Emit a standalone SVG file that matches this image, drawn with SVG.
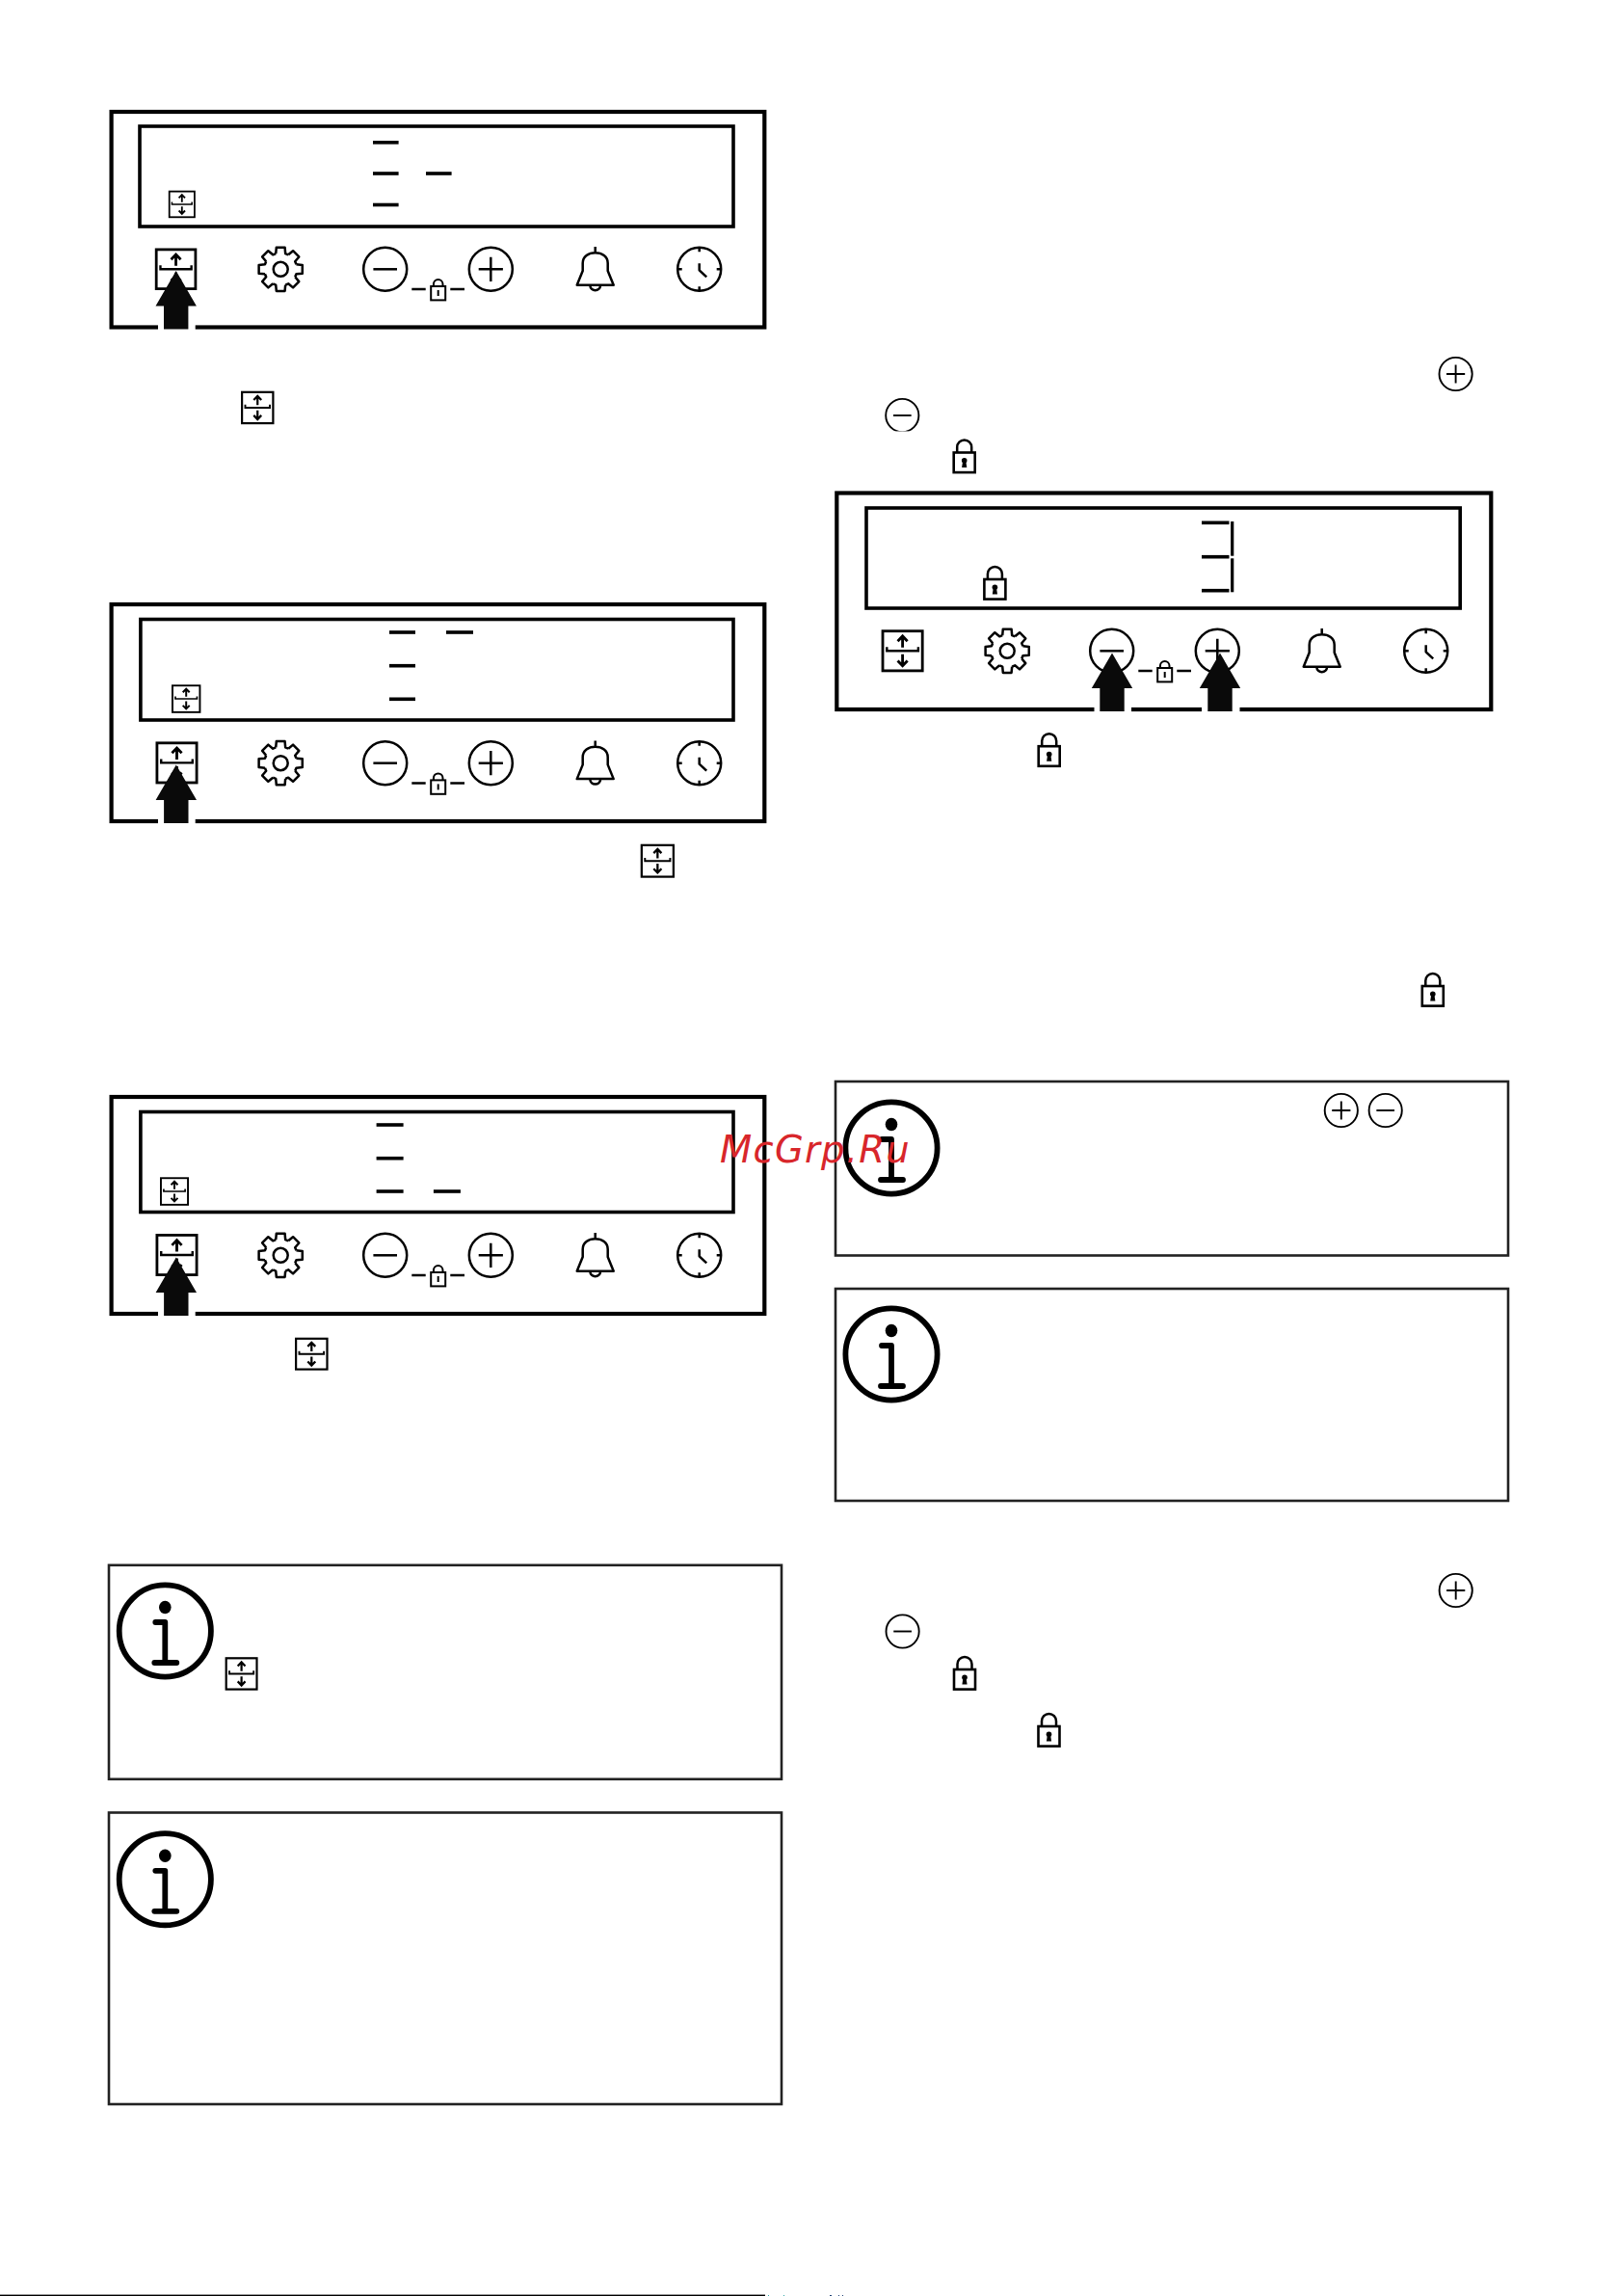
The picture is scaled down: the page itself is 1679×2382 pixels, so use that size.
<svg xmlns="http://www.w3.org/2000/svg" width="1679" height="2382" viewBox="0 0 1679 2382">
<style>
.outer{fill:none;stroke:#000;stroke-width:4.2}
.inner{fill:none;stroke:#000;stroke-width:3.6}
.dash{fill:#000}
.ln{fill:none;stroke:#000;stroke-width:2.5;stroke-linecap:butt;stroke-linejoin:round}
.box{fill:none;stroke:#222;stroke-width:2.6}
.mark{font-family:"DejaVu Sans",sans-serif;font-style:oblique;font-size:38.5px;letter-spacing:1.25px;fill:#d8262b}
</style>
<defs>
<g id="tray">
<rect x="3.2" y="3.2" width="93.6" height="93.6" fill="#fff" stroke="#000" stroke-width="6.4"/>
<path d="M50 42V16M38.5 27L50 15L61.5 27M50 58V85M38.5 73L50 85L61.5 73" fill="none" stroke="#000" stroke-width="6.5"/>
<path d="M13 41V50H87V41" fill="none" stroke="#000" stroke-width="5.5"/>
</g>
<g id="minus"><circle r="22.5" class="ln"/><path d="M-12.3 0H12.3" class="ln"/></g>
<g id="plus"><circle r="22.5" class="ln"/><path d="M-12.6 0H12.6M0-12.6V12.6" class="ln"/></g>
<g id="lock">
<rect x="-11" y="0" width="22" height="20.6" fill="#fff" stroke="#000" stroke-width="2.6"/>
<path d="M-7.5 0V-5.5A7.5 7.5 0 0 1 7.5-5.5V0" class="ln"/>
<circle cy="8.3" r="2.8"/><path d="M-1.6 9H1.6L2.6 15.6H-2.6Z"/>
</g>
<g id="locksmall">
<rect x="-7.5" y="0" width="15" height="14.4" fill="#fff" stroke="#000" stroke-width="2"/>
<path d="M-4.8 0V-2.2A4.8 4.8 0 0 1 4.8-2.2V0" fill="none" stroke="#000" stroke-width="2"/>
<rect x="-1" y="4" width="2" height="6"/>
</g>
<path id="tooth" d="M-4.97-16.26L-4.39-22.58H4.39L4.97-16.26L7.98-15.01" class="ln"/>
<g id="gear">
<use href="#tooth"/>
<use href="#tooth" transform="rotate(45)"/><use href="#tooth" transform="rotate(90)"/><use href="#tooth" transform="rotate(135)"/>
<use href="#tooth" transform="rotate(180)"/><use href="#tooth" transform="rotate(225)"/><use href="#tooth" transform="rotate(270)"/><use href="#tooth" transform="rotate(315)"/>
<circle r="7.5" class="ln"/>
</g>
<g id="bell"><path d="M0 0V6.3M-19 39.7H19L13 25V17C13 10 7 6.3 0 6.3C-7 6.3-13 10-13 17V25ZM-5.5 39.7C-5 47 5 47 5.5 39.7" class="ln"/></g>
<g id="clock"><circle r="22.5" class="ln"/><path d="M0-22.5V-18M0 22.5V18M-22.5 0H-18M22.5 0H18" class="ln"/><path d="M0-6V1L7.5 8" class="ln"/></g>
<g id="controls">
<use href="#gear" x="291.2" y="279.3"/>
<use href="#minus" x="399.7" y="279.3"/>
<use href="#plus" x="509.3" y="279.3"/>
<path d="M427.3 300H441.7M467.3 300H482" class="ln"/>
<use href="#locksmall" x="454.7" y="297"/>
<use href="#bell" x="617.7" y="256"/>
<use href="#clock" x="725.7" y="279.3"/>
</g>
<g id="pointer"><path d="M0 0L21.2 36.5H12.7V60.5H-12.7V36.5H-21.2Z" fill="#0a0a0a"/></g>
<g id="info">
<circle r="47.6" fill="none" stroke="#000" stroke-width="5.8"/>
<ellipse cy="-24.5" rx="6.3" ry="6.8"/>
<path d="M-10-9H0V33M-11 33H12" fill="none" stroke="#000" stroke-width="5.8" stroke-linecap="round" stroke-linejoin="round"/>
</g>
</defs>
<rect width="1679" height="2382" fill="#fff"/>

<g id="panel-1">
<rect class="outer" x="115.6" y="116" width="677.7" height="223.5"/>
<rect class="inner" x="145" y="131" width="616" height="104"/>
<rect class="dash" x="387" y="146" width="26.6" height="3.6"/>
<rect class="dash" x="387" y="178.2" width="26.6" height="3.6"/>
<rect class="dash" x="442" y="178.2" width="26.6" height="3.6"/>
<rect class="dash" x="387" y="210.7" width="26.6" height="3.6"/>
<use href="#tray" transform="translate(174.8,197.7) scale(.28,.285)"/>
<use href="#tray" transform="translate(160.8,257.5) scale(.435,.435)"/>
<use href="#controls"/>
</g>
<g id="icon-1"><use href="#tray" transform="translate(250,405.7) scale(.345,.345)"/></g>

<g id="panel-2">
<rect class="outer" x="115.6" y="627" width="677.7" height="225"/>
<rect class="inner" x="145.9" y="642.5" width="615.1" height="104.5"/>
<rect class="dash" x="404" y="654.2" width="27" height="3.6"/>
<rect class="dash" x="463" y="654.2" width="28" height="3.6"/>
<rect class="dash" x="404" y="688.9" width="27" height="3.6"/>
<rect class="dash" x="404" y="723.5" width="27" height="3.6"/>
<use href="#tray" transform="translate(178,710.3) scale(.304,.295)"/>
<use href="#tray" transform="translate(161.5,769.4) scale(.44,.44)"/>
<use href="#controls" y="512.4"/>
</g>
<g id="icon-2"><use href="#tray" transform="translate(664.7,875.7) scale(.353,.35)"/></g>

<g id="panel-3">
<rect class="outer" x="115.6" y="1138" width="677.7" height="225"/>
<rect class="inner" x="145.9" y="1153.5" width="615.1" height="104"/>
<rect class="dash" x="390.6" y="1165.2" width="28" height="3.6"/>
<rect class="dash" x="390.6" y="1199.9" width="28" height="3.6"/>
<rect class="dash" x="390.6" y="1234.2" width="28" height="3.6"/>
<rect class="dash" x="449.9" y="1234.2" width="28" height="3.6"/>
<use href="#tray" transform="translate(166,1221.3) scale(.3,.295)"/>
<use href="#tray" transform="translate(161.5,1280) scale(.44,.44)"/>
<use href="#controls" y="1023"/>
</g>
<g id="icon-3"><use href="#tray" transform="translate(306,1387.7) scale(.346,.34)"/></g>

<g id="panel-4">
<rect class="outer" x="868.3" y="511.5" width="679" height="224.5"/>
<rect class="inner" x="899" y="527" width="616.2" height="104"/>
<rect class="dash" x="1247" y="540.5" width="28.5" height="3.6"/>
<rect class="dash" x="1247" y="575.9" width="28.5" height="3.6"/>
<rect class="dash" x="1247" y="610.9" width="28.5" height="3.6"/>
<rect class="dash" x="1277.1" y="541" width="3.2" height="35.7"/>
<rect class="dash" x="1277.1" y="579.3" width="3.2" height="35"/>
<use href="#lock" transform="translate(1032.4,601)"/>
<use href="#tray" transform="translate(914.6,653.3) scale(.44,.44)"/>
<use href="#controls" x="754" y="396"/>
</g>

<g id="inline-icons">
<use href="#plus" transform="translate(1510.6,388) scale(.76)"/>
<use href="#minus" transform="translate(936.3,431) scale(.76)"/>
<rect x="915" y="447.4" width="44" height="3" fill="#fff"/>
<use href="#lock" transform="translate(1000.7,469.5)"/>
<use href="#lock" transform="translate(1088.7,774.2)"/>
<use href="#lock" transform="translate(1486.8,1023)"/>
<use href="#plus" transform="translate(1510.7,1650) scale(.76)"/>
<use href="#minus" transform="translate(936.6,1692.5) scale(.76)"/>
<use href="#lock" transform="translate(1001,1732)"/>
<use href="#lock" transform="translate(1088.5,1791)"/>
</g>

<g id="note-1">
<rect class="box" x="113" y="1623.8" width="698" height="222"/>
<use href="#info" x="171.3" y="1692"/>
<use href="#tray" transform="translate(233.6,1719.2) scale(.34,.345)"/>
</g>
<g id="note-2">
<rect class="box" x="113" y="1880.5" width="698" height="302.5"/>
<use href="#info" x="171.3" y="1949.8"/>
</g>
<g id="note-3">
<rect class="box" x="867" y="1122" width="698" height="180.5"/>
<use href="#info" x="925" y="1191"/>
<use href="#plus" transform="translate(1391.8,1152) scale(.76)"/>
<use href="#minus" transform="translate(1437.7,1152) scale(.76)"/>
</g>
<g id="note-4">
<rect class="box" x="867" y="1337" width="698" height="220"/>
<use href="#info" x="925" y="1405"/>
</g>

<g id="connectors">
<rect x="164" y="336.5" width="38.7" height="6" fill="#fff"/>
<use href="#pointer" x="182.7" y="281"/>
<rect x="164" y="849" width="38.7" height="6" fill="#fff"/>
<use href="#pointer" x="182.8" y="793.5"/>
<rect x="164" y="1360" width="38.7" height="6" fill="#fff"/>
<use href="#pointer" x="182.8" y="1304.5"/>
<rect x="1135.5" y="733" width="38.5" height="6" fill="#fff"/>
<use href="#pointer" x="1154" y="677.5"/>
<rect x="1247" y="733" width="39.5" height="6" fill="#fff"/>
<use href="#pointer" x="1266" y="677.5"/>
</g>

<g id="page-edge">
<rect x="0" y="2380.6" width="794" height="1.4" fill="#000"/>
<rect x="797" y="2381" width="1" height="1" fill="#3aa"/>
<rect x="813" y="2381" width="1" height="1" fill="#3aa"/>
<rect x="861" y="2381" width="2" height="1" fill="#247"/>
<rect x="870" y="2381" width="1" height="1" fill="#247"/>
<rect x="874" y="2381" width="1" height="1" fill="#247"/>
</g>

<text class="mark" x="747" y="1205.5">McGrp.Ru</text>
</svg>
